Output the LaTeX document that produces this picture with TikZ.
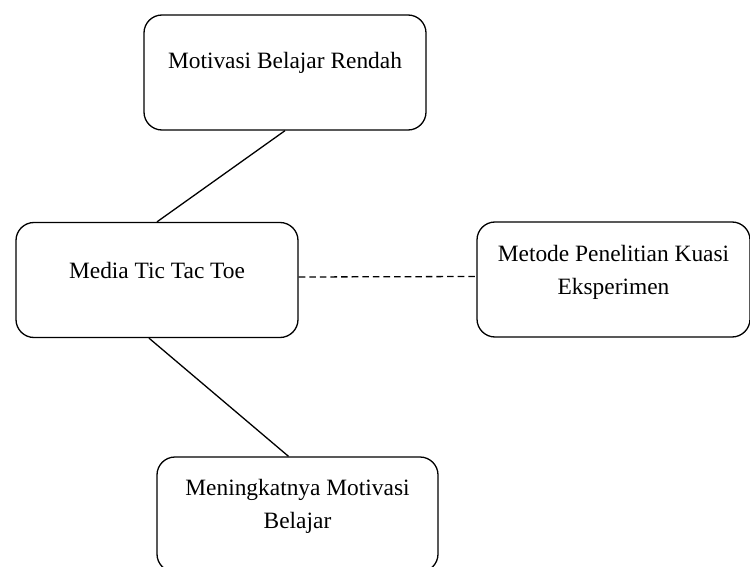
\documentclass[tikz,border=0pt]{standalone}
\usepackage{fontspec}
\setmainfont{Liberation Serif}
\usetikzlibrary{positioning,calc}
\tikzset{>=stealth}
\tikzset{
  box/.style={draw,rounded corners=9pt,line width=0.65pt,minimum width=141pt,minimum height=57.5pt,inner sep=0pt},
  lbl/.style={align=center,font=\fontsize{11.7}{16.5}\selectfont,inner sep=0pt},
  link/.style={line width=0.65pt},
  weak/.style={link,dash pattern=on 3.3pt off 2pt}
}

\begin{document}
\begin{tikzpicture}[x=0.5pt,y=-0.5pt]
\clip (0,0) rectangle (750,567);
\node[box] (motivasi) at (285,72.5) {};
\node[box] (media) at (157,280) {};
\node[box,minimum width=136.5pt] (metode) at (613.5,279.5) {};
\node[box,minimum width=140.5pt] (naik) at (297.5,514.5) {};
\node[lbl] (tmotivasi) at ([yshift=-24.5pt]motivasi.north) {Motivasi Belajar Rendah};
\node[lbl] (tmedia) at ([yshift=-24.5pt]media.north) {Media Tic Tac Toe};
\node[lbl] (tmetode) at ([yshift=-25.5pt]metode.north) {Metode Penelitian Kuasi\\Eksperimen};
\node[lbl] (tnaik) at ([yshift=-25pt]naik.north) {Meningkatnya Motivasi\\Belajar};
\draw[link] (motivasi.south) -- (media.north);
\draw[link] ([xshift=-4pt]media.south) -- ([xshift=-4.5pt]naik.north);
\draw[weak] ([yshift=1.5pt]media.east) -- ([yshift=1.5pt]metode.west);
\end{tikzpicture}
\end{document}
